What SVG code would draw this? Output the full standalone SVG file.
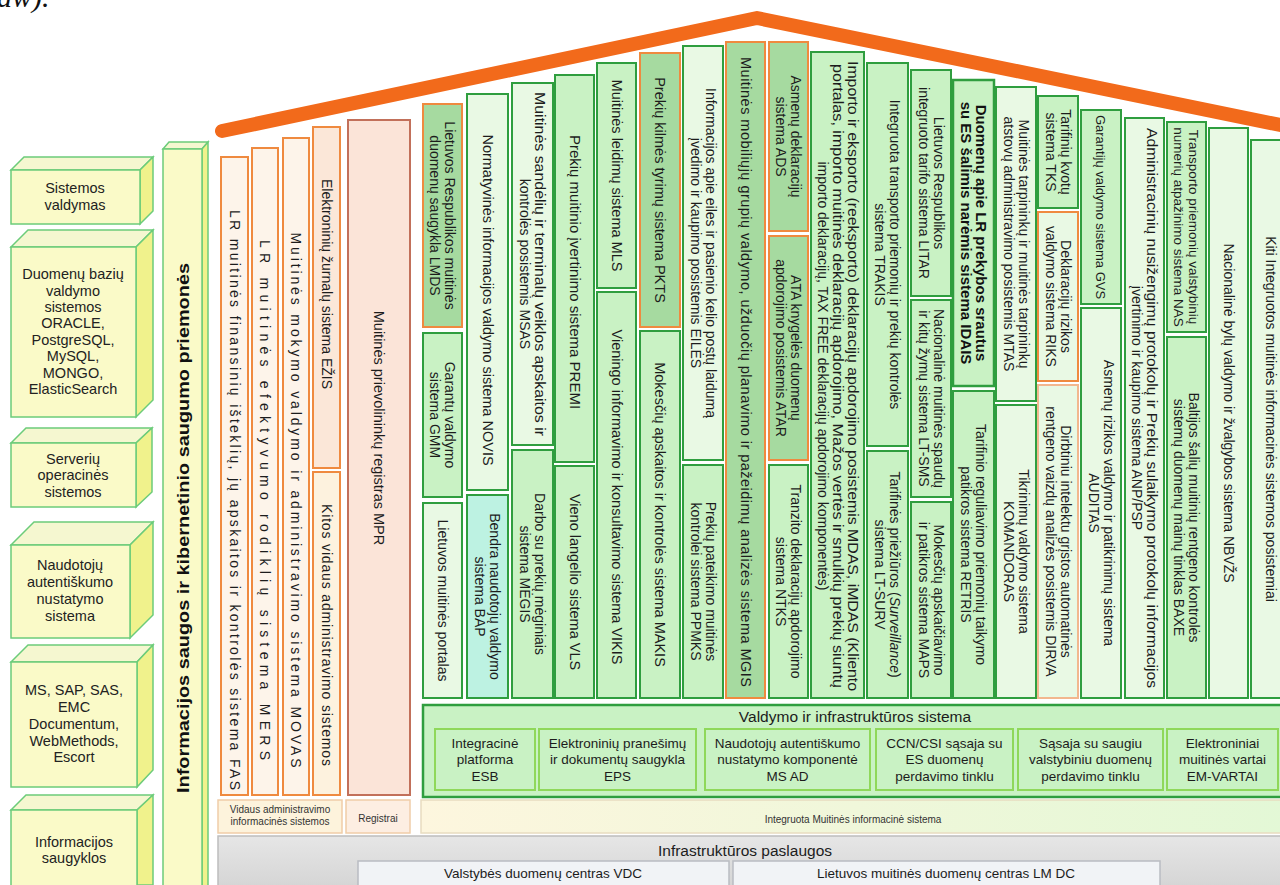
<svg xmlns="http://www.w3.org/2000/svg" width="1280" height="885" viewBox="0 0 1280 885">
<defs>
<linearGradient id="intg" x1="0" y1="0" x2="1" y2="0"><stop offset="0" stop-color="#fdf6de"/><stop offset="1" stop-color="#e3f8d6"/></linearGradient>
<linearGradient id="infg" x1="0" y1="0" x2="0" y2="1"><stop offset="0" stop-color="#e6e6e6"/><stop offset="1" stop-color="#d2d2d2"/></linearGradient>
<style>
.t{font-family:"Liberation Sans",Arial,sans-serif;font-size:14px;fill:#1c1c1c;text-anchor:middle}
.tb{font-family:"Liberation Sans",Arial,sans-serif;font-size:15px;font-weight:bold;fill:#111;text-anchor:middle}
.ts{font-family:"Liberation Sans",Arial,sans-serif;font-size:10px;fill:#333;text-anchor:middle}
.tl{font-family:"Liberation Sans",Arial,sans-serif;font-size:14.5px;fill:#222;text-anchor:middle}
.ti{font-family:"Liberation Sans",Arial,sans-serif;font-size:13.5px;fill:#1c1c1c;text-anchor:middle}
.g1{fill:#c9f2c4;stroke:#2f9e3f;stroke-width:2}
.g2{fill:#e9f9e4;stroke:#2f9e3f;stroke-width:2}
.o1{fill:#a6daa0;stroke:#ef8a3f;stroke-width:2}
.o2{fill:#e9f9e4;stroke:#ef8a3f;stroke-width:2}
.o3{fill:#e9f9e4;stroke:#f2b78e;stroke-width:2}
.cy{fill:#bdf2e2;stroke:#2f9e3f;stroke-width:2}
.lo{fill:#fdf4ea;stroke:#ef8a3f;stroke-width:2}
.bf{fill:#fafac8;stroke:#6ccc7a;stroke-width:1.5}
.bt{fill:#f5f7d0;stroke:#6ccc7a;stroke-width:1.5}
.bs{fill:#f0f28c;stroke:#6ccc7a;stroke-width:1.5}
.ib{fill:#c9f2c4;stroke:#8fd85a;stroke-width:2}
</style>
</defs>
<rect width="1280" height="885" fill="#ffffff"/>
<text x="-3" y="7" font-family="Liberation Serif" font-style="italic" font-size="30" fill="#111">aw).</text>

<!-- left 3D boxes -->
<g id="box-sistemos-valdymas">
<polygon class="bt" points="11,170 24,157 153,157 140,170"/><polygon class="bs" points="140,170 153,157 153,211 140,224"/><rect class="bf" x="11" y="170" width="129" height="54"/>
<text class="tl"><tspan x="75" y="193">Sistemos</tspan><tspan x="75" y="210">valdymas</tspan></text>
</g>
<g id="box-db">
<polygon class="bt" points="11,247 28,230 153,230 136,247"/><polygon class="bs" points="136,247 153,230 153,400 136,417"/><rect class="bf" x="11" y="247" width="125" height="170"/>
<text class="tl"><tspan x="73" y="279">Duomenų bazių</tspan><tspan x="73" y="296">valdymo</tspan><tspan x="73" y="312">sistemos</tspan><tspan x="73" y="328">ORACLE,</tspan><tspan x="73" y="345">PostgreSQL,</tspan><tspan x="73" y="361">MySQL,</tspan><tspan x="73" y="378">MONGO,</tspan><tspan x="73" y="394">ElasticSearch</tspan></text>
</g>
<g id="box-serveriu">
<polygon class="bt" points="11,443 26,428 152,428 136,443"/><polygon class="bs" points="136,443 152,428 152,492 136,507"/><rect class="bf" x="11" y="443" width="125" height="64"/>
<text class="tl"><tspan x="73" y="464">Serverių</tspan><tspan x="73" y="480">operacinės</tspan><tspan x="73" y="497">sistemos</tspan></text>
</g>
<g id="box-naudotoju">
<polygon class="bt" points="11,545 34,522 153,522 130,545"/><polygon class="bs" points="130,545 153,522 153,615 130,638"/><rect class="bf" x="11" y="545" width="119" height="93"/>
<text class="tl"><tspan x="70" y="570">Naudotojų</tspan><tspan x="70" y="587">autentiškumo</tspan><tspan x="70" y="604">nustatymo</tspan><tspan x="70" y="621">sistema</tspan></text>
</g>
<g id="box-ms-sap">
<polygon class="bt" points="11,662 28,645 153,645 137,662"/><polygon class="bs" points="137,662 153,645 153,770 137,787"/><rect class="bf" x="11" y="662" width="126" height="125"/>
<text class="tl"><tspan x="74" y="695">MS, SAP, SAS,</tspan><tspan x="74" y="712">EMC</tspan><tspan x="74" y="729">Documentum,</tspan><tspan x="74" y="746">WebMethods,</tspan><tspan x="74" y="762">Escort</tspan></text>
</g>
<g id="box-saugyklos">
<polygon class="bt" points="11,810 26,795 153,795 137,810"/><polygon class="bs" points="137,810 153,795 153,885 137,885"/><rect class="bf" x="11" y="810" width="126" height="80"/>
<text class="tl"><tspan x="74" y="847">Informacijos</tspan><tspan x="74" y="863">saugyklos</tspan></text>
</g>
<g id="security-bar">
<polygon class="bt" points="163,149 169,142 208,142 202,149"/><polygon class="bs" points="202,149 208,142 208,890 202,890"/><rect class="bf" x="163" y="149" width="39" height="741"/>
<text class="tb" style="font-size:17px" textLength="530" lengthAdjust="spacingAndGlyphs" transform="translate(189,528) rotate(-90)">Informacijos saugos ir kibernetinio saugumo priemonės</text>
</g>

<!-- roof -->
<path id="roof" d="M222,131 L757,18 L1285,126" fill="none" stroke="#f26a1b" stroke-width="14" stroke-linecap="round" stroke-linejoin="round"/>

<!-- internal administration -->
<g id="fas"><rect class="lo" x="221" y="157" width="27" height="638"/><text class="t" textLength="580" lengthAdjust="spacing" transform="translate(234.5,500) rotate(90)" y="5">LR muitinės finansinių išteklių, jų apskaitos ir kontrolės sistema FAS</text></g>
<g id="mers"><rect class="lo" x="252" y="148" width="26" height="647"/><text class="t" textLength="520" lengthAdjust="spacing" transform="translate(265,500) rotate(90)" y="5">LR muitinės efektyvumo rodiklių sistema MERS</text></g>
<g id="movas"><rect class="lo" x="283" y="138" width="26" height="657"/><text class="t" textLength="535" lengthAdjust="spacing" transform="translate(296,500) rotate(90)" y="5">Muitinės mokymo valdymo ir administravimo sistema MOVAS</text></g>
<g id="ezis"><rect x="313" y="127" width="27" height="341" fill="#fbe7d8" stroke="#ef8a3f" stroke-width="2"/><text class="t" transform="translate(326.5,284) rotate(90)" y="5">Elektroninių žurnalų sistema EŽIS</text></g>
<g id="kitos"><rect x="313" y="472" width="27" height="323" fill="#fdf2de" stroke="#ef8a3f" stroke-width="2"/><text class="t" textLength="262" lengthAdjust="spacing" transform="translate(326.5,635) rotate(90)" y="5">Kitos vidaus administravimo sistemos</text></g>
<g id="mpr"><rect x="348" y="120" width="62" height="675" fill="#fbe4d8" stroke="#c2705a" stroke-width="2"/><text class="t" style="font-size:14.5px" transform="translate(379,428) rotate(90)" y="5">Muitinės prievolininkų registras MPR</text></g>

<!-- integrated system columns -->
<g id="lmds"><rect class="o1" x="423" y="104" width="39" height="223"/><text class="t" transform="translate(442.5,215.5) rotate(90)"><tspan x="0" y="-2.5">Lietuvos Respublikos muitinės</tspan><tspan x="0" y="12.5">duomenų saugykla LMDS</tspan></text></g>
<g id="gmm"><rect class="g1" x="423" y="333" width="39" height="164"/><text class="t" transform="translate(442.5,415) rotate(90)"><tspan x="0" y="-2.5">Garantų valdymo</tspan><tspan x="0" y="12.5">sistema GMM</tspan></text></g>
<g id="portalas"><rect class="g2" x="423" y="503" width="39" height="195"/><text class="t" transform="translate(442.5,600.5) rotate(90)" y="5">Lietuvos muitinės portalas</text></g>

<g id="novis"><rect class="g2" x="467" y="94" width="41" height="396"/><text class="t" style="font-size:14.5px" transform="translate(487.5,300) rotate(90)" y="5">Normatyvinės informacijos valdymo sistema NOVIS</text></g>
<g id="bap"><rect class="cy" x="467" y="495" width="41" height="203"/><text class="t" transform="translate(487.5,596.5) rotate(90)"><tspan x="0" y="-2.5">Bendra naudotojų valdymo</tspan><tspan x="0" y="12.5">sistema BAP</tspan></text></g>

<g id="msas"><rect class="g2" x="512" y="83" width="41" height="362"/><text class="t" transform="translate(532.5,264) rotate(90)"><tspan x="0" y="-2.5" textLength="344" lengthAdjust="spacingAndGlyphs">Muitinės sandėlių ir terminalų veiklos apskaitos ir</tspan><tspan x="0" y="12.5">kontrolės posistemis MSAS</tspan></text></g>
<g id="megis"><rect class="g1" x="512" y="450" width="41" height="248"/><text class="t" transform="translate(532.5,574) rotate(90)"><tspan x="0" y="-2.5">Darbo su prekių mėginiais</tspan><tspan x="0" y="12.5">sistema MĖGIS</tspan></text></g>

<g id="premi"><rect class="g1" x="555" y="75" width="39" height="387"/><text class="t" style="font-size:15px" transform="translate(574.5,272) rotate(90)" y="5">Prekių muitinio įvertinimo sistema PREMI</text></g>
<g id="vls"><rect class="g1" x="555" y="466" width="39" height="232"/><text class="t" style="font-size:14.5px" transform="translate(574.5,582) rotate(90)" y="5">Vieno langelio sistema VLS</text></g>

<g id="mls"><rect class="g1" x="597" y="63" width="39" height="225"/><text class="t" style="font-size:14.5px" transform="translate(616.5,175.5) rotate(90)" y="5">Muitinės leidimų sistema MLS</text></g>
<g id="vikis"><rect class="g1" x="597" y="292" width="39" height="406"/><text class="t" style="font-size:14.5px" transform="translate(616.5,497) rotate(90)" y="5">Vieningo informavimo ir konsultavimo sistema VIKIS</text></g>

<g id="pkts"><rect class="o1" x="640" y="53" width="40" height="274"/><text class="t" style="font-size:14.5px" transform="translate(660,190) rotate(90)" y="5">Prekių kilmės tyrimų sistema PKTS</text></g>
<g id="makis"><rect class="g1" x="640" y="331" width="40" height="367"/><text class="t" style="font-size:14.5px" transform="translate(660,514.5) rotate(90)" y="5">Mokesčių apskaitos ir kontrolės sistema MAKIS</text></g>

<g id="eiles"><rect class="g2" x="683" y="46" width="40" height="414"/><text class="t" transform="translate(703,253) rotate(90)"><tspan x="0" y="-2.5">Informacijos apie eiles ir pasienio kelio postų laidumą</tspan><tspan x="0" y="12.5">įvedimo ir kaupimo posistemis EILĖS</tspan></text></g>
<g id="ppmks"><rect class="g1" x="683" y="465" width="40" height="233"/><text class="t" transform="translate(703,581.5) rotate(90)"><tspan x="0" y="-2.5">Prekių pateikimo muitinės</tspan><tspan x="0" y="12.5">kontrolei sistema PPMKS</tspan></text></g>

<g id="mgis"><rect class="o1" x="726" y="42" width="39" height="656"/><text class="t" style="font-size:14.5px" textLength="630" lengthAdjust="spacing" transform="translate(745.5,372) rotate(90)" y="5">Muitinės mobiliųjų grupių valdymo, užduočių planavimo ir pažeidimų analizės sistema MGIS</text></g>

<g id="ads"><rect class="o1" x="769" y="42" width="39" height="189"/><text class="t" transform="translate(788.5,136.5) rotate(90)"><tspan x="0" y="-2.5">Asmenų deklaracijų</tspan><tspan x="0" y="12.5">sistema ADS</tspan></text></g>
<g id="atar"><rect class="o1" x="769" y="236" width="39" height="224"/><text class="t" transform="translate(788.5,348) rotate(90)"><tspan x="0" y="-2.5">ATA knygelės duomenų</tspan><tspan x="0" y="12.5">apdorojimo posistemis ATAR</tspan></text></g>
<g id="ntks"><rect class="g1" x="769" y="465" width="39" height="233"/><text class="t" transform="translate(788.5,581.5) rotate(90)"><tspan x="0" y="-2.5">Tranzito deklaracijų apdorojimo</tspan><tspan x="0" y="12.5">sistema NTKS</tspan></text></g>

<g id="mdas"><rect class="g1" x="811" y="52" width="53" height="646"/><text class="t" transform="translate(837.5,376) rotate(90)"><tspan x="0" y="-10" textLength="630" lengthAdjust="spacingAndGlyphs">Importo ir eksporto (reeksporto) deklaracijų apdorojimo posistemis MDAS, iMDAS (Kliento</tspan><tspan x="0" y="5" textLength="624" lengthAdjust="spacingAndGlyphs">portalas, importo muitinės deklaracijų apdorojimo, Mažos vertės ir smulkių prekių siuntų</tspan><tspan x="0" y="20">importo deklaracijų, TAX FREE deklaracijų apdorojimo komponentės)</tspan></text></g>

<g id="trakis"><rect class="g1" x="867" y="63" width="41" height="383"/><text class="t" transform="translate(887.5,254.5) rotate(90)"><tspan x="0" y="-2.5">Integruota transporto priemonių ir prekių kontrolės</tspan><tspan x="0" y="12.5">sistema TRAKIS</tspan></text></g>
<g id="lt-surv"><rect class="g1" x="867" y="451" width="41" height="247"/><text class="t" transform="translate(887.5,574.5) rotate(90)"><tspan x="0" y="-2.5">Tarifinės priežiūros (<tspan font-style="italic">Surveillance</tspan>)</tspan><tspan x="0" y="12.5">sistema LT-SURV</tspan></text></g>

<g id="litar"><rect class="g1" x="911" y="70" width="40" height="226"/><text class="t" transform="translate(931,183) rotate(90)"><tspan x="0" y="-2.5">Lietuvos Respublikos</tspan><tspan x="0" y="12.5">integruoto tarifo sistema LITAR</tspan></text></g>
<g id="lt-sms"><rect class="g1" x="911" y="300" width="40" height="197"/><text class="t" transform="translate(931,398.5) rotate(90)"><tspan x="0" y="-2.5">Nacionalinė muitinės spaudų</tspan><tspan x="0" y="12.5">ir kitų žymų sistema LT-SMS</tspan></text></g>
<g id="maps"><rect class="g1" x="911" y="502" width="40" height="196"/><text class="t" transform="translate(931,600) rotate(90)"><tspan x="0" y="-2.5">Mokesčių apskaičiavimo</tspan><tspan x="0" y="12.5">ir patikros sistema MAPS</tspan></text></g>

<g id="idais"><rect class="g1" style="stroke-width:2.5" x="953" y="80" width="41" height="306"/><text class="tb" transform="translate(973.5,233) rotate(90)"><tspan x="0" y="-2.5">Duomenų apie LR prekybos srautus</tspan><tspan x="0" y="13">su ES šalimis narėmis sistema IDAIS</tspan></text></g>
<g id="retris"><rect class="g1" x="953" y="391" width="41" height="307"/><text class="t" transform="translate(973.5,544.5) rotate(90)"><tspan x="0" y="-2.5">Tarifinio reguliavimo priemonių taikymo</tspan><tspan x="0" y="12.5">patikros sistema RETRIS</tspan></text></g>

<g id="mtas"><rect class="g2" x="996" y="87" width="40" height="314"/><text class="t" transform="translate(1016,244) rotate(90)"><tspan x="0" y="-2.5">Muitinės tarpininkų ir muitinės tarpininkų</tspan><tspan x="0" y="12.5">atstovų administravimo posistemis MTAS</tspan></text></g>
<g id="komandoras"><rect class="g2" x="996" y="405" width="40" height="293"/><text class="t" transform="translate(1016,551.5) rotate(90)"><tspan x="0" y="-2.5">Tikrinimų valdymo sistema</tspan><tspan x="0" y="12.5">KOMANDORAS</tspan></text></g>

<g id="tks"><rect class="g1" x="1038" y="96" width="40" height="112"/><text class="t" transform="translate(1058,152) rotate(90)"><tspan x="0" y="-2.5">Tarifinių kvotų</tspan><tspan x="0" y="12.5">sistema TKS</tspan></text></g>
<g id="riks"><rect class="o2" x="1038" y="212" width="40" height="169"/><text class="t" transform="translate(1058,296.5) rotate(90)"><tspan x="0" y="-2.5">Deklaracijų rizikos</tspan><tspan x="0" y="12.5">valdymo sistema RIKS</tspan></text></g>
<g id="dirva"><rect class="o3" x="1038" y="385" width="40" height="313"/><text class="t" transform="translate(1058,541.5) rotate(90)"><tspan x="0" y="-2.5">Dirbtiniu intelektu grįstos automatinės</tspan><tspan x="0" y="12.5">rentgeno vaizdų analizės posistemis DIRVA</tspan></text></g>

<g id="gvs"><rect class="g1" x="1081" y="110" width="40" height="194"/><text class="t" style="font-size:13px" transform="translate(1101,207) rotate(90)" y="5">Garantijų valdymo sistema GVS</text></g>
<g id="auditas"><rect class="g2" x="1081" y="308" width="40" height="390"/><text class="t" transform="translate(1101,503) rotate(90)"><tspan x="0" y="-2.5">Asmenų rizikos valdymo ir patikrinimų sistema</tspan><tspan x="0" y="12.5">AUDITAS</tspan></text></g>

<g id="anp-psp"><rect class="g2" x="1125" y="118" width="39" height="580"/><text class="t" transform="translate(1144.5,408) rotate(90)"><tspan x="0" y="-2.5" textLength="560" lengthAdjust="spacingAndGlyphs">Administracinių nusižengimų protokolų ir Prekių sulaikymo protokolų informacijos</tspan><tspan x="0" y="12.5">įvertinimo ir kaupimo sistema ANP/PSP</tspan></text></g>

<g id="nas"><rect class="g1" x="1167" y="122" width="39" height="210"/><text class="t" style="font-size:13.5px" transform="translate(1186.5,227) rotate(90)"><tspan x="0" y="-2.5">Transporto priemonių valstybinių</tspan><tspan x="0" y="12.5">numerių atpažinimo sistema NAS</tspan></text></g>
<g id="baxe"><rect class="g1" x="1167" y="337" width="39" height="361"/><text class="t" transform="translate(1186.5,517.5) rotate(90)"><tspan x="0" y="-2.5">Baltijos šalių muitinių rentgeno kontrolės</tspan><tspan x="0" y="12.5">sistemų duomenų mainų tinklas BAXE</tspan></text></g>

<g id="nbvzs"><rect class="g2" x="1209" y="128" width="39" height="570"/><text class="t" transform="translate(1228.5,413) rotate(90)" y="5">Nacionalinė bylų valdymo ir žvalgybos sistema NBVŽS</text></g>
<g id="kiti"><rect class="g2" x="1251" y="140" width="40" height="558"/><text class="t" transform="translate(1271,419) rotate(90)" y="5">Kiti Integruotos muitinės informacinės sistemos posistemiai</text></g>

<!-- management & infrastructure system -->
<g id="valdymo-infra">
<rect x="423" y="705" width="870" height="92" fill="#c9f2c4" stroke="#2f9e3f" stroke-width="2.5"/>
<text class="t" style="font-size:15.5px" x="855" y="722">Valdymo ir infrastruktūros sistema</text>
</g>
<g id="esb"><rect class="ib" x="435" y="729" width="100" height="61"/><text class="ti"><tspan x="485" y="748">Integracinė</tspan><tspan x="485" y="764">platforma</tspan><tspan x="485" y="781">ESB</tspan></text></g>
<g id="eps"><rect class="ib" x="539" y="729" width="157" height="61"/><text class="ti"><tspan x="617.5" y="748">Elektroninių pranešimų</tspan><tspan x="617.5" y="764">ir dokumentų saugykla</tspan><tspan x="617.5" y="781">EPS</tspan></text></g>
<g id="ms-ad"><rect class="ib" x="705" y="729" width="165" height="61"/><text class="ti"><tspan x="787.5" y="748">Naudotojų autentiškumo</tspan><tspan x="787.5" y="764">nustatymo komponentė</tspan><tspan x="787.5" y="781">MS AD</tspan></text></g>
<g id="ccn-csi"><rect class="ib" x="876" y="729" width="137" height="61"/><text class="ti"><tspan x="944.5" y="748">CCN/CSI sąsaja su</tspan><tspan x="944.5" y="764">ES duomenų</tspan><tspan x="944.5" y="781">perdavimo tinklu</tspan></text></g>
<g id="sasaja"><rect class="ib" x="1018" y="729" width="145" height="61"/><text class="ti"><tspan x="1090.5" y="748">Sąsaja su saugiu</tspan><tspan x="1090.5" y="764">valstybiniu duomenų</tspan><tspan x="1090.5" y="781">perdavimo tinklu</tspan></text></g>
<g id="em-vartai"><rect class="ib" x="1167" y="729" width="111" height="61"/><text class="ti"><tspan x="1222.5" y="748">Elektroniniai</tspan><tspan x="1222.5" y="764">muitinės vartai</tspan><tspan x="1222.5" y="781">EM-VARTAI</tspan></text></g>

<!-- group labels -->
<g id="label-vidaus"><rect x="218" y="800" width="124" height="33" fill="#fdf3dc" stroke="#f0cda8" stroke-width="1.5"/><text class="ts"><tspan x="280" y="813">Vidaus administravimo</tspan><tspan x="280" y="825">informacinės sistemos</tspan></text></g>
<g id="label-registrai"><rect x="346" y="800" width="64" height="33" fill="#fdeee2" stroke="#f0cda8" stroke-width="1.5"/><text class="ts" x="378" y="822">Registrai</text></g>
<g id="label-integruota"><rect x="421" y="800" width="870" height="33" fill="url(#intg)" stroke="#e8dcc0" stroke-width="1.5"/><text class="ts" x="853" y="823">Integruota Muitinės informacinė sistema</text></g>

<!-- infrastructure services -->
<g id="infrastruktura">
<rect x="218" y="836" width="1075" height="60" fill="url(#infg)" stroke="#bdbdbd" stroke-width="1.5"/>
<text class="t" style="font-size:15.5px" x="745" y="856">Infrastruktūros paslaugos</text>
</g>
<g id="vdc"><rect x="358" y="861" width="371" height="30" fill="#f1f3f6" stroke="#b9bcc2" stroke-width="1.5"/><text class="ti" x="543" y="878">Valstybės duomenų centras VDC</text></g>
<g id="lm-dc"><rect x="733" y="861" width="427" height="30" fill="#f1f3f6" stroke="#b9bcc2" stroke-width="1.5"/><text class="ti" x="946" y="878">Lietuvos muitinės duomenų centras LM DC</text></g>

<g id="connectors"></g>
</svg>
